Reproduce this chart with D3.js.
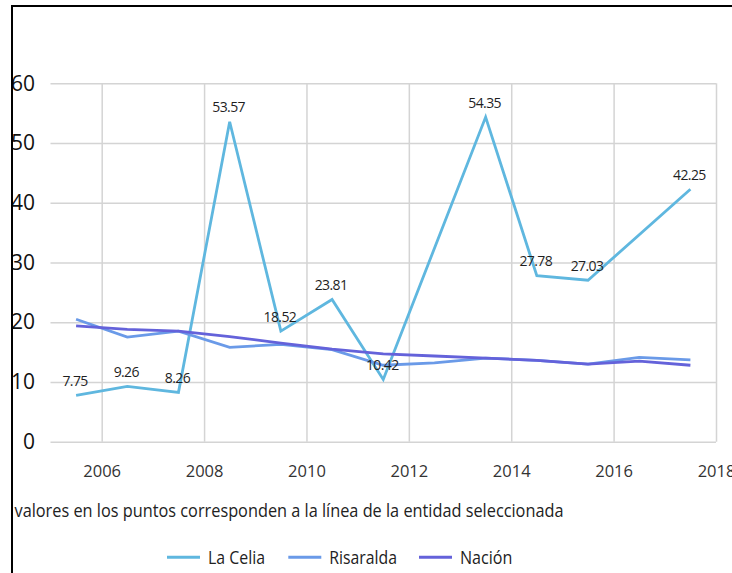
<!DOCTYPE html>
<html lang="es">
<head>
    <meta charset="UTF-8">
    <script src="https://d3js.org/d3.v7.min.js"></script>
    <title>La Celia - Risaralda - Nación</title>
    <style>
        body { margin: 0; background: #fff; }
        text { font-family: "Open Sans", "Noto Sans", sans-serif; }
    </style>
</head>
<body>
<svg class="chart"></svg>

<script>
    // values, one point per year (drawn at mid-year)
    const years = [2005, 2006, 2007, 2008, 2009, 2010, 2011, 2012, 2013, 2014, 2015, 2016, 2017];
    const laCelia = [7.75, 9.26, 8.26, 53.57, 18.52, 23.81, 10.42, null, 54.35, 27.78, 27.03, null, 42.25];
    const risaralda = [20.5, 17.5, 18.5, 15.8, 16.3, 15.4, 12.8, 13.2, 14.0, 13.6, 13.0, 14.1, 13.7];
    const nacion = [19.4, 18.8, 18.5, 17.6, 16.5, 15.5, 14.7, 14.35, 14.0, 13.6, 13.0, 13.5, 12.8];

    const seriesNames = ['La Celia', 'Risaralda', 'Nación'];
    const yTicks = [0, 10, 20, 30, 40, 50, 60];
    const xTicks = [2006, 2008, 2010, 2012, 2014, 2016, 2018];
    const note = 'valores en los puntos corresponden a la línea de la entidad seleccionada';

    const colors = ['#5fb7df', '#6a9ae8', '#6462da'];

    let chart_width = 732;
    let chart_height = 573;
    let plotLeft = 50.5, plotRight = 716, plotTop = 83.3, plotBottom = 441.7;

    let svg = d3.select('.chart').attr('width', chart_width).attr('height', chart_height);

    var x_range = d3.scaleLinear().domain([2005, 2018]).range([plotLeft, plotRight]);
    var y_range = d3.scaleLinear().domain([0, 60]).range([plotBottom, plotTop]);

    // grid
    let hgrid = svg.append('g')
        .attr('transform', 'translate(' + plotLeft + ',0)')
        .call(d3.axisLeft(y_range).tickValues(yTicks).tickSize(-(plotRight - plotLeft)).tickFormat(''));
    let vgrid = svg.append('g')
        .attr('transform', 'translate(0,' + plotBottom + ')')
        .call(d3.axisBottom(x_range).tickValues(xTicks).tickSize(-(plotBottom - plotTop)).tickFormat(''));
    [hgrid, vgrid].forEach(function (g) {
        g.select('.domain').remove();
        g.selectAll('line').attr('stroke', '#d4d4d4').attr('stroke-width', 1.5);
    });

    // axis labels
    let yAxis = svg.append('g')
        .attr('transform', 'translate(38,0)')
        .call(d3.axisLeft(y_range).tickValues(yTicks).tickSize(0).tickPadding(3));
    yAxis.select('.domain').remove();
    yAxis.selectAll('text')
        .attr('font-size', 21).attr('fill', '#111')
        .style('font-family', '"Open Sans", sans-serif');

    let xAxis = svg.append('g')
        .attr('transform', 'translate(0,' + plotBottom + ')')
        .call(d3.axisBottom(x_range).tickValues(xTicks).tickFormat(d3.format('d')).tickSize(0).tickPadding(24));
    xAxis.select('.domain').remove();
    xAxis.selectAll('text')
        .attr('font-size', 16.5).attr('fill', '#333')
        .style('font-family', '"Open Sans", sans-serif');

    // lines
    let allSeries = [laCelia, risaralda, nacion];
    let line = d3.line()
        .x(function (d) { return x_range(d.year + 0.5); })
        .y(function (d) { return y_range(d.value); });

    allSeries.forEach(function (values, i) {
        let pts = years.map(function (yr, j) { return {year: yr, value: values[j]}; })
            .filter(function (d) { return d.value !== null; });
        svg.append('path')
            .datum(pts)
            .attr('fill', 'none')
            .attr('stroke', colors[i])
            .attr('stroke-width', 2.8)
            .attr('stroke-linejoin', 'miter')
            .attr('d', line);
    });

    // data labels on La Celia
    let labelled = years.map(function (yr, j) { return {year: yr, value: laCelia[j]}; })
        .filter(function (d) { return d.value !== null; });
    svg.selectAll('.lbl')
        .data(labelled)
        .enter()
        .append('text')
        .attr('class', 'lbl')
        .attr('x', function (d) { return x_range(d.year + 0.5) - 1; })
        .attr('y', function (d) { return y_range(d.value) - 9.5; })
        .attr('text-anchor', 'middle')
        .attr('font-size', 14)
        .attr('letter-spacing', -0.6)
        .attr('fill', '#1f1f1f')
        .text(function (d) { return d.value.toFixed(2); });

    // note under the axis
    svg.append('text')
        .attr('x', 14.5).attr('y', 516.7)
        .attr('font-size', 18.5).attr('fill', '#222')
        .attr('textLength', 549).attr('lengthAdjust', 'spacingAndGlyphs')
        .text(note);

    // legend
    let legendX = [167, 288.3, 419];
    let legendW = [57, 67.7, 52.4];
    seriesNames.forEach(function (name, i) {
        svg.append('line')
            .attr('x1', legendX[i]).attr('x2', legendX[i] + 33)
            .attr('y1', 557.3).attr('y2', 557.3)
            .attr('stroke', colors[i]).attr('stroke-width', 3);
        svg.append('text')
            .attr('x', legendX[i] + 41).attr('y', 563.5)
            .attr('font-size', 18.5).attr('fill', '#222')
            .attr('textLength', legendW[i]).attr('lengthAdjust', 'spacingAndGlyphs')
            .text(name);
    });

    // frame: top and left edge
    svg.append('line').attr('x1', 12).attr('x2', chart_width).attr('y1', 6).attr('y2', 6)
        .attr('stroke', '#000').attr('stroke-width', 2);
    svg.append('line').attr('x1', 12).attr('x2', 12).attr('y1', 5).attr('y2', chart_height)
        .attr('stroke', '#000').attr('stroke-width', 2);
</script>
</body>
</html>
